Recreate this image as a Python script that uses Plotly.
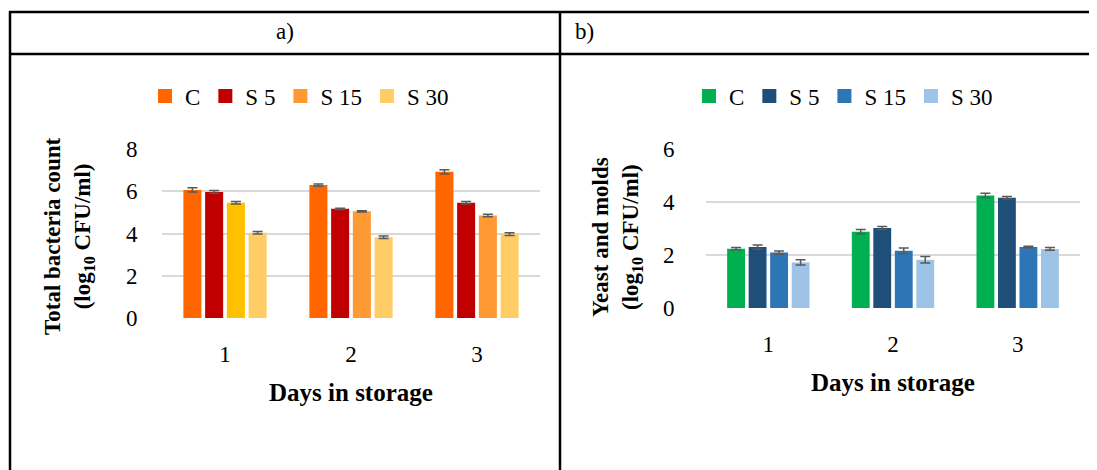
import plotly.graph_objects as go

W, H = 1097, 470
OX, OY = 8, 8  # page body margin offset compensation

days = ["1", "2", "3"]
series = ["C", "S 5", "S 15", "S 30"]

# Panel a) Total bacteria count (log10 CFU/ml)
tbc_values = {
    "C":    [6.06, 6.29, 6.92],
    "S 5":  [5.97, 5.17, 5.46],
    "S 15": [5.46, 5.05, 4.85],
    "S 30": [4.04, 3.82, 3.97],
}
tbc_errors = {
    "C":    [0.10, 0.05, 0.10],
    "S 5":  [0.07, 0.03, 0.06],
    "S 15": [0.06, 0.03, 0.06],
    "S 30": [0.06, 0.06, 0.06],
}
tbc_colors = {
    "C":    ["#FF6600", "#FF6600", "#FF6600"],
    "S 5":  ["#C00000", "#C00000", "#C00000"],
    "S 15": ["#FFC000", "#FF9933", "#FF9933"],
    "S 30": ["#FFCC66", "#FFCC66", "#FFCC66"],
}
tbc_legend_colors = {"C": "#FF6600", "S 5": "#C00000", "S 15": "#FF9933", "S 30": "#FFCC66"}

# Panel b) Yeast and molds (log10 CFU/ml)
ym_values = {
    "C":    [2.24, 2.88, 4.25],
    "S 5":  [2.30, 3.02, 4.16],
    "S 15": [2.09, 2.16, 2.30],
    "S 30": [1.72, 1.82, 2.23],
}
ym_errors = {
    "C":    [0.04, 0.08, 0.08],
    "S 5":  [0.08, 0.06, 0.05],
    "S 15": [0.06, 0.10, 0.03],
    "S 30": [0.10, 0.12, 0.05],
}
ym_colors = {"C": "#00B050", "S 5": "#1F4E79", "S 15": "#2E75B6", "S 30": "#9DC3E6"}

FONT = "Liberation Serif"
ERR_COLOR = "#595959"
GRID = "#D9D9D9"

def px(x):
    return (x - OX) / W

def py(y):
    return 1 - (y - OY) / H

fig = go.Figure()

for s in series:
    fig.add_trace(go.Bar(
        x=days, y=tbc_values[s], name=s,
        marker=dict(color=tbc_colors[s], line=dict(width=0)),
        error_y=dict(type="data", array=tbc_errors[s], color=ERR_COLOR, thickness=1.5, width=5),
        xaxis="x", yaxis="y", showlegend=False,
    ))
for s in series:
    fig.add_trace(go.Scatter(
        x=[None], y=[None], name=s, mode="markers",
        marker=dict(symbol="square", size=14, color=tbc_legend_colors[s], line=dict(width=0)),
        xaxis="x", yaxis="y", legend="legend", showlegend=True,
    ))

for s in series:
    fig.add_trace(go.Bar(
        x=days, y=ym_values[s], name=s,
        marker=dict(color=ym_colors[s], line=dict(width=0)),
        error_y=dict(type="data", array=ym_errors[s], color=ERR_COLOR, thickness=1.5, width=5),
        xaxis="x2", yaxis="y2", showlegend=False,
    ))
for s in series:
    fig.add_trace(go.Scatter(
        x=[None], y=[None], name=s, mode="markers",
        marker=dict(symbol="square", size=14, color=ym_colors[s], line=dict(width=0)),
        xaxis="x2", yaxis="y2", legend="legend2", showlegend=True,
    ))

axis_common = dict(
    showline=False, zeroline=False, tickfont=dict(family=FONT, size=23, color="#000"),
    fixedrange=True, automargin=False,
)

fig.update_layout(
    width=W, height=H,
    margin=dict(l=0, r=0, t=0, b=0, pad=0, autoexpand=False),
    paper_bgcolor="white", plot_bgcolor="white",
    barmode="group", bargap=0.31, bargroupgap=0.17,
    font=dict(family=FONT, color="#000"),
    xaxis=dict(domain=[px(162), px(540)], anchor="y", showgrid=False,
               ticks="outside", ticklen=15, tickcolor="rgba(0,0,0,0)", **axis_common),
    yaxis=dict(domain=[py(318), py(149)], anchor="x", range=[0, 8], dtick=2,
               showgrid=True, gridcolor=GRID, gridwidth=1.5,
               ticks="outside", ticklen=19, tickcolor="rgba(0,0,0,0)", **axis_common),
    xaxis2=dict(domain=[px(706), px(1080)], anchor="y2", showgrid=False,
                ticks="outside", ticklen=15, tickcolor="rgba(0,0,0,0)", **axis_common),
    yaxis2=dict(domain=[py(308), py(149)], anchor="x2", range=[0, 6], dtick=2,
                showgrid=True, gridcolor=GRID, gridwidth=1.5,
                ticks="outside", ticklen=26, tickcolor="rgba(0,0,0,0)", **axis_common),
    legend=dict(orientation="h", x=px(145), y=py(96), xanchor="left", yanchor="middle",
                font=dict(family=FONT, size=23, color="#000"), bgcolor="rgba(0,0,0,0)",
                itemwidth=30, tracegroupgap=0),
    legend2=dict(orientation="h", x=px(689), y=py(96), xanchor="left", yanchor="middle",
                 font=dict(family=FONT, size=23, color="#000"), bgcolor="rgba(0,0,0,0)",
                 itemwidth=30, tracegroupgap=0),
)

# Table borders
lw = 2.5
shapes = [
    dict(type="line", xref="paper", yref="paper", x0=px(9), x1=px(W + OX), y0=py(12), y1=py(12)),
    dict(type="line", xref="paper", yref="paper", x0=px(9), x1=px(W + OX), y0=py(54), y1=py(54)),
    dict(type="line", xref="paper", yref="paper", x0=px(10), x1=px(10), y0=py(11), y1=py(H + OY)),
    dict(type="line", xref="paper", yref="paper", x0=px(560), x1=px(560), y0=py(11), y1=py(H + OY)),
]
for s in shapes:
    s["line"] = dict(color="black", width=lw)
fig.update_layout(shapes=shapes)

annotations = [
    dict(text="a)", x=px(285), y=py(32), xanchor="center", yanchor="middle",
         font=dict(size=23)),
    dict(text="b)", x=px(573), y=py(32), xanchor="left", yanchor="middle",
         font=dict(size=23)),
    dict(text="<b>Total bacteria count<br>(log<sub>10</sub> CFU/ml)</b>", x=px(69), y=py(236),
         textangle=-90, xanchor="center", yanchor="middle", font=dict(size=23)),
    dict(text="<b>Yeast and molds<br>(log<sub>10</sub> CFU/ml)</b>", x=px(617), y=py(237),
         textangle=-90, xanchor="center", yanchor="middle", font=dict(size=23)),
    dict(text="<b>Days in storage</b>", x=px(351), y=py(392), xanchor="center", yanchor="middle",
         font=dict(size=25)),
    dict(text="<b>Days in storage</b>", x=px(893), y=py(382), xanchor="center", yanchor="middle",
         font=dict(size=25)),
]
for a in annotations:
    a.update(xref="paper", yref="paper", showarrow=False)
    a["font"].update(family=FONT, color="#000")
fig.update_layout(annotations=annotations)

fig.write_html("out.html")
